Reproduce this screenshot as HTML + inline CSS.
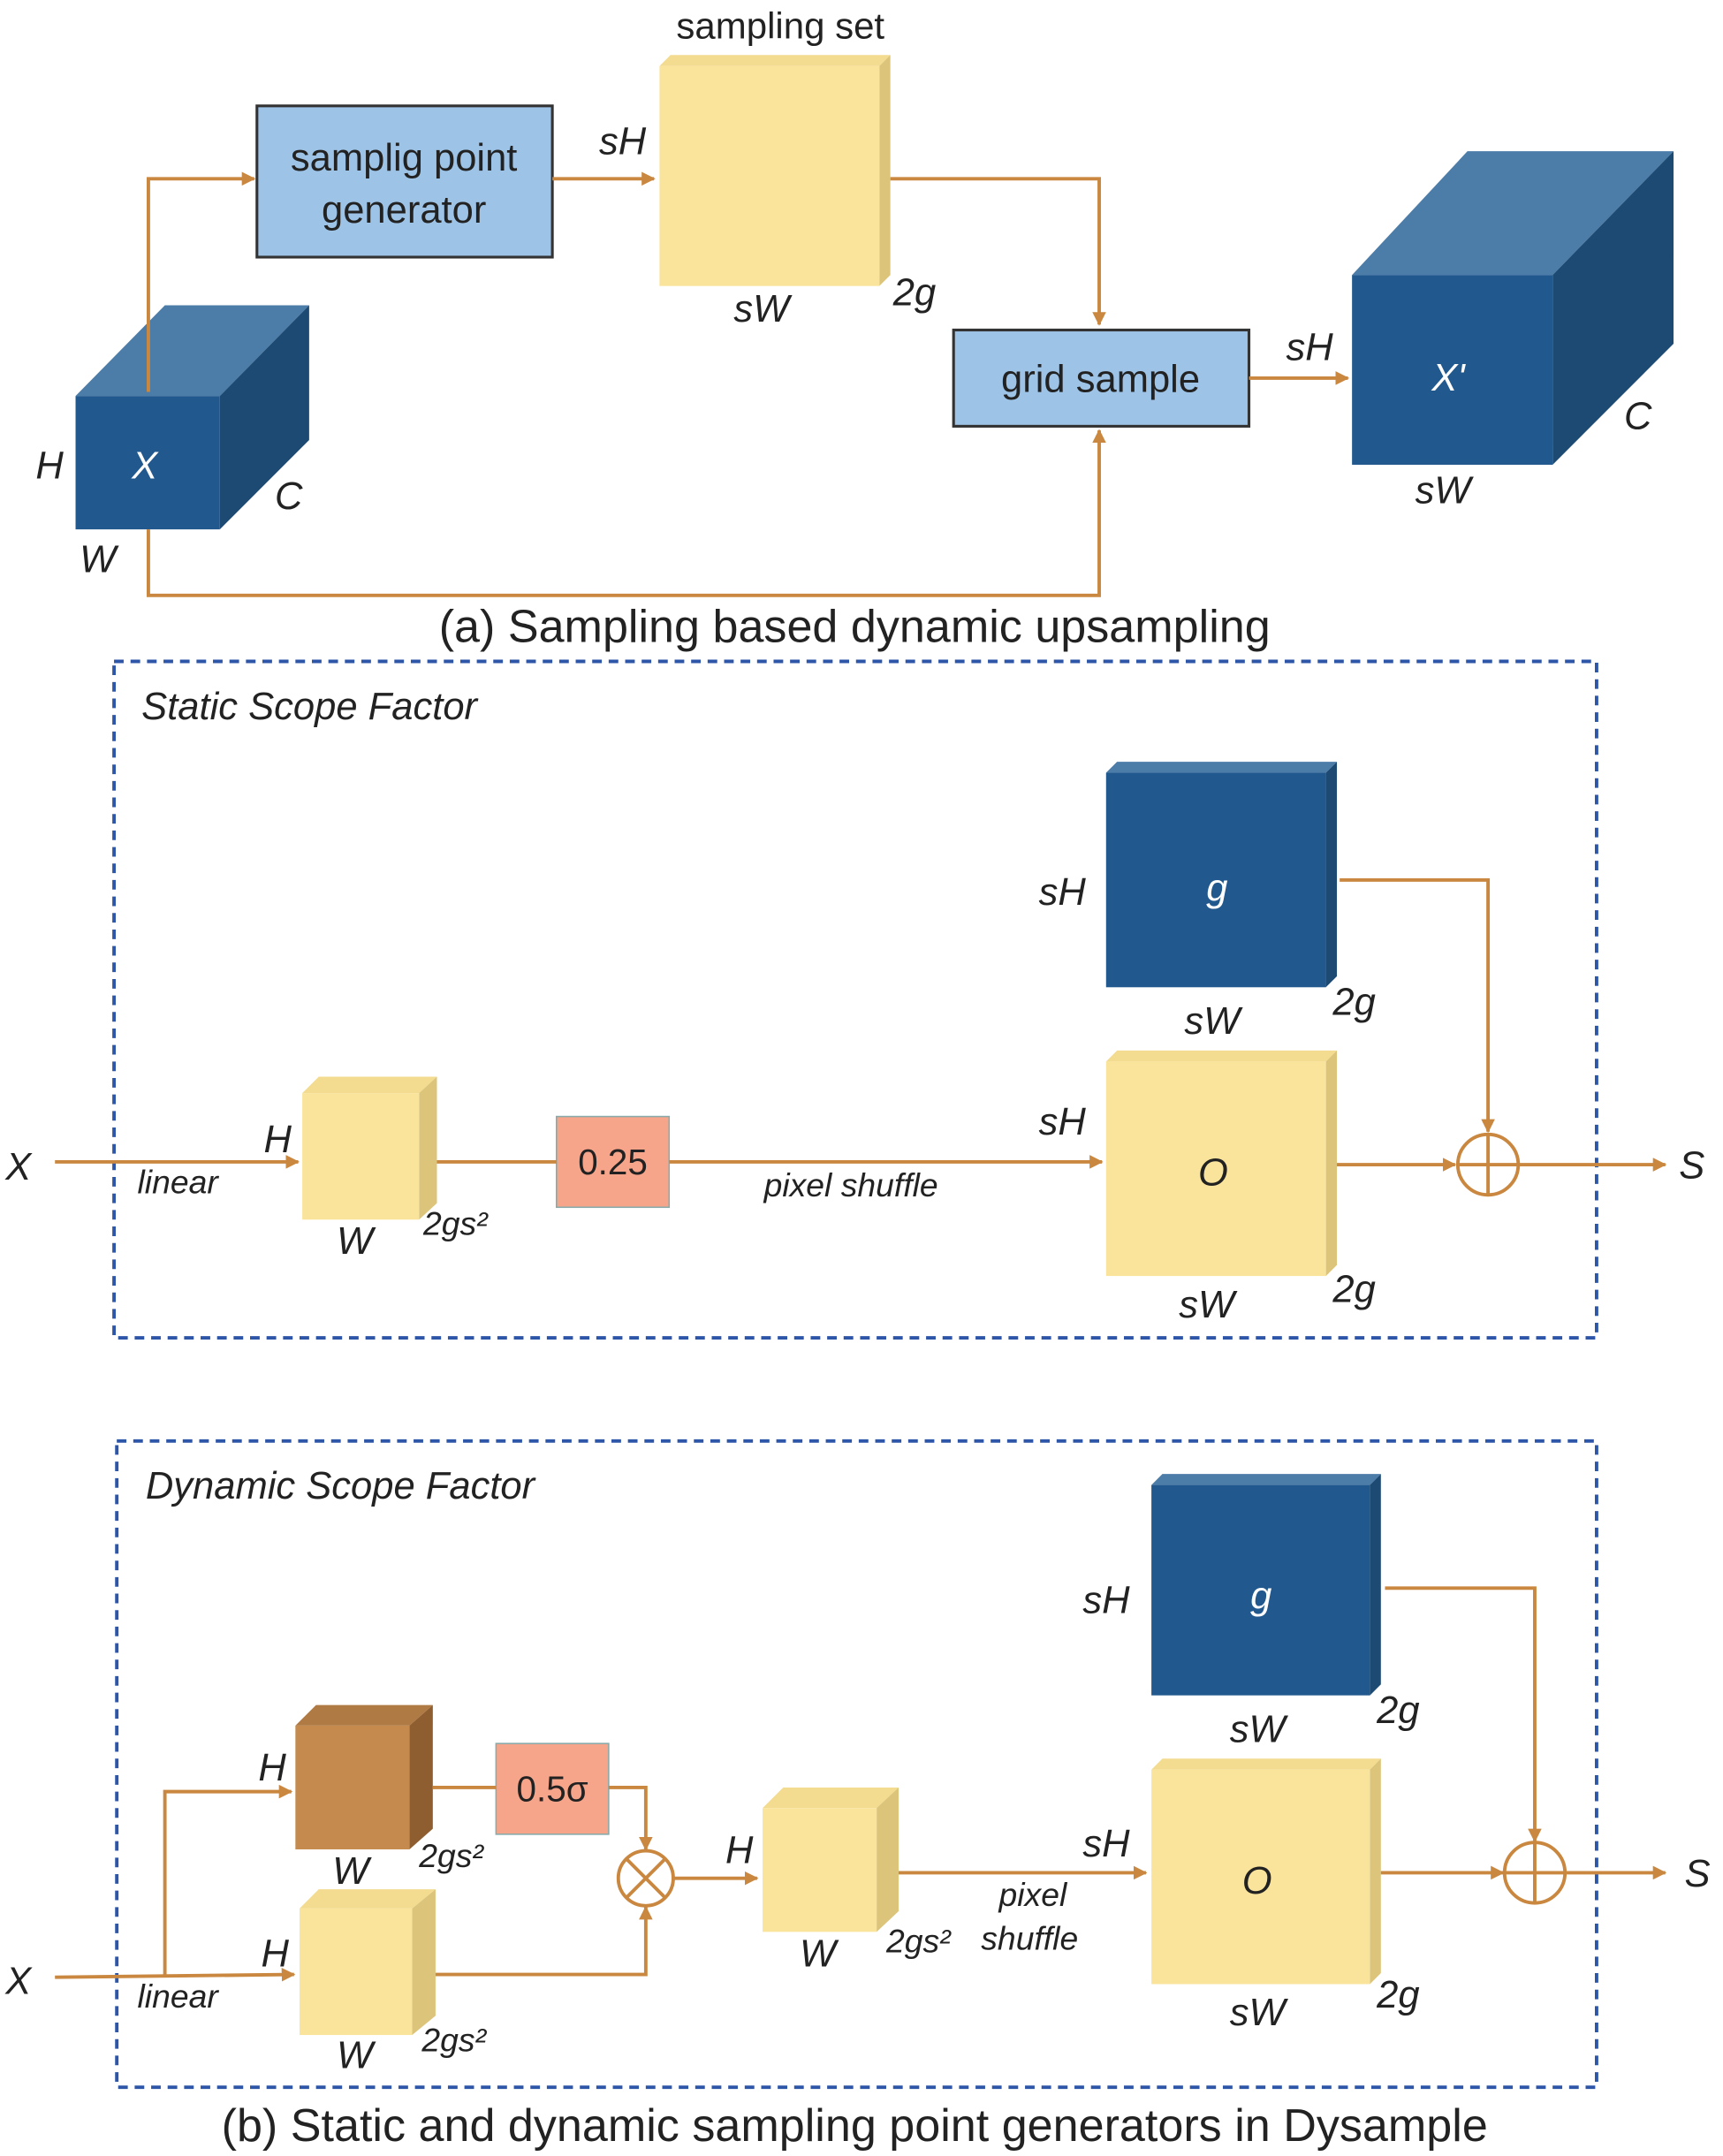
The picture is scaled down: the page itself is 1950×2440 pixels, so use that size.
<!DOCTYPE html>
<html><head><meta charset="utf-8"><style>
html,body{margin:0;padding:0;background:#fff;}
svg{display:block;}
text{font-family:"Liberation Sans",sans-serif;}
.l{font-style:italic;font-size:28px;fill:#222;}
.cap{font-size:33.5px;fill:#222;}
.ln{stroke:#c9873f;stroke-width:2.5;fill:none;}
</style></head><body>
<svg width="1950" height="2440" viewBox="0 0 1254 1568" preserveAspectRatio="none" xmlns="http://www.w3.org/2000/svg">
<defs>
<marker id="a" markerWidth="10" markerHeight="10" refX="9" refY="5" orient="auto" markerUnits="userSpaceOnUse">
<path d="M0,0 L10,5 L0,10 z" fill="#c9873f"/></marker>
</defs>
<rect width="1254" height="1568" fill="#fff"/>

<polygon points="55,288 120,222 225,222 160,288" fill="#4c7ca8"/>
<polygon points="160,288 225,222 225,320 160,385" fill="#1d4a72"/>
<rect x="55" y="288" width="105" height="97" fill="#21588e"/>
<text class="l" x="26" y="348">H</text>
<text class="l" x="96" y="348" style="fill:#fff">X</text>
<text class="l" x="200" y="370">C</text>
<text class="l" x="58" y="416">W</text>

<rect x="187" y="77" width="215" height="110" fill="#9dc3e6" stroke="#333" stroke-width="2"/>
<text x="294" y="124" text-anchor="middle" style="font-size:28px;fill:#222">samplig point</text>
<text x="294" y="162" text-anchor="middle" style="font-size:28px;fill:#222">generator</text>

<polygon points="480,48 488,40 648,40 640,48" fill="#f3dc90"/>
<polygon points="640,48 648,40 648,200 640,208" fill="#dcc57a"/>
<rect x="480" y="48" width="160" height="160" fill="#fae49b"/>
<text x="568" y="28" text-anchor="middle" style="font-size:27px;fill:#222">sampling set</text>
<text class="l" x="436" y="112">sH</text>
<text class="l" x="534" y="234">sW</text>
<text class="l" x="650" y="222">2g</text>

<rect x="694" y="240" width="215" height="70" fill="#9dc3e6" stroke="#333" stroke-width="2"/>
<text x="801" y="285" text-anchor="middle" style="font-size:28px;fill:#222">grid sample</text>

<polygon points="984,200 1068,110 1218,110 1130,200" fill="#4c7ca8"/>
<polygon points="1130,200 1218,110 1218,250 1130,338" fill="#1d4a72"/>
<rect x="984" y="200" width="146" height="138" fill="#21588e"/>
<text class="l" x="936" y="262">sH</text>
<text x="1042" y="284" style="font-size:28px;font-style:italic;fill:#fff">X'</text>
<text class="l" x="1182" y="312">C</text>
<text class="l" x="1030" y="366">sW</text>

<polyline class="ln" points="108,285 108,130 185,130" marker-end="url(#a)"/>
<line class="ln" x1="402" y1="130" x2="476" y2="130" marker-end="url(#a)"/>
<polyline class="ln" points="648,130 800,130 800,236" marker-end="url(#a)"/>
<line class="ln" x1="909" y1="275" x2="981" y2="275" marker-end="url(#a)"/>
<polyline class="ln" points="108,385 108,433 800,433 800,313" marker-end="url(#a)"/>
<text class="cap" x="622" y="467" text-anchor="middle">(a) Sampling based dynamic upsampling</text>

<rect x="83" y="481" width="1079" height="492" fill="none" stroke="#2e56a8" stroke-width="2.5" stroke-dasharray="7,5"/>
<text class="l" x="103" y="523">Static Scope Factor</text>

<polygon points="805,562 813,554 973,554 965,562" fill="#4c7ca8"/>
<polygon points="965,562 973,554 973,710 965,718" fill="#1d4a72"/>
<rect x="805" y="562" width="160" height="156" fill="#21588e"/>
<text class="l" x="756" y="658">sH</text>
<text x="878" y="655" style="font-size:28px;font-style:italic;fill:#fff">g</text>
<text class="l" x="862" y="752">sW</text>
<text class="l" x="970" y="738">2g</text>

<polygon points="805,772 813,764 973,764 965,772" fill="#f3dc90"/>
<polygon points="965,772 973,764 973,920 965,928" fill="#dcc57a"/>
<rect x="805" y="772" width="160" height="156" fill="#fae49b"/>
<text class="l" x="756" y="825">sH</text>
<text class="l" x="872" y="862">O</text>
<text class="l" x="858" y="958">sW</text>
<text class="l" x="970" y="947">2g</text>

<polygon points="220,795 232,783 318,783 305,795" fill="#f3dc90"/>
<polygon points="305,795 318,783 318,875 305,887" fill="#dcc57a"/>
<rect x="220" y="795" width="85" height="92" fill="#fae49b"/>
<text class="l" x="192" y="838">H</text>
<text class="l" x="245" y="912">W</text>
<text class="l" x="308" y="898" style="font-size:24px">2gs²</text>

<rect x="405" y="812" width="82" height="66" fill="#f7a58a" stroke="#8aa" stroke-width="1"/>
<text x="446" y="854" text-anchor="middle" style="font-size:26px;fill:#222">0.25</text>

<text class="l" x="4" y="858">X</text>
<text class="l" x="100" y="868" style="font-size:24px">linear</text>
<text class="l" x="556" y="870" style="font-size:24px">pixel shuffle</text>

<line class="ln" x1="40" y1="845" x2="217" y2="845" marker-end="url(#a)"/>
<line class="ln" x1="318" y1="845" x2="405" y2="845"/>
<line class="ln" x1="487" y1="845" x2="802" y2="845" marker-end="url(#a)"/>
<line class="ln" x1="973" y1="847" x2="1059" y2="847" marker-end="url(#a)"/>
<circle cx="1083" cy="847" r="22" fill="none" stroke="#c9873f" stroke-width="2.5"/>
<line class="ln" x1="1061" y1="847" x2="1105" y2="847"/>
<line class="ln" x1="1083" y1="825" x2="1083" y2="869"/>
<line class="ln" x1="1105" y1="847" x2="1212" y2="847" marker-end="url(#a)"/>
<polyline class="ln" points="975,640 1083,640 1083,823" marker-end="url(#a)"/>
<text class="l" x="1222" y="857">S</text>

<rect x="85" y="1048" width="1077" height="470" fill="none" stroke="#2e56a8" stroke-width="2.5" stroke-dasharray="7,5"/>
<text class="l" x="106" y="1090">Dynamic Scope Factor</text>

<polygon points="838,1080 846,1072 1005,1072 997,1080" fill="#4c7ca8"/>
<polygon points="997,1080 1005,1072 1005,1225 997,1233" fill="#1d4a72"/>
<rect x="838" y="1080" width="159" height="153" fill="#21588e"/>
<text class="l" x="788" y="1173">sH</text>
<text x="910" y="1170" style="font-size:28px;font-style:italic;fill:#fff">g</text>
<text class="l" x="895" y="1267">sW</text>
<text class="l" x="1002" y="1253">2g</text>

<polygon points="838,1287 846,1279 1005,1279 997,1287" fill="#f3dc90"/>
<polygon points="997,1287 1005,1279 1005,1435 997,1443" fill="#dcc57a"/>
<rect x="838" y="1287" width="159" height="156" fill="#fae49b"/>
<text class="l" x="788" y="1350">sH</text>
<text class="l" x="904" y="1377">O</text>
<text class="l" x="895" y="1473">sW</text>
<text class="l" x="1002" y="1460">2g</text>

<polygon points="215,1255 230,1240 315,1240 298,1255" fill="#b07a44"/>
<polygon points="298,1255 315,1240 315,1330 298,1345" fill="#8e5e30"/>
<rect x="215" y="1255" width="83" height="90" fill="#c58a4e"/>
<text class="l" x="188" y="1295">H</text>
<text class="l" x="242" y="1370">W</text>
<text class="l" x="305" y="1358" style="font-size:24px">2gs²</text>

<polygon points="218,1388 232,1374 317,1374 300,1388" fill="#f3dc90"/>
<polygon points="300,1388 317,1374 317,1466 300,1480" fill="#dcc57a"/>
<rect x="218" y="1388" width="82" height="92" fill="#fae49b"/>
<text class="l" x="190" y="1430">H</text>
<text class="l" x="245" y="1504">W</text>
<text class="l" x="307" y="1492" style="font-size:24px">2gs²</text>

<rect x="361" y="1268" width="82" height="66" fill="#f7a58a" stroke="#8aa" stroke-width="1"/>
<text x="402" y="1310" text-anchor="middle" style="font-size:26px;fill:#222">0.5σ</text>

<polygon points="555,1315 570,1300 654,1300 638,1315" fill="#f3dc90"/>
<polygon points="638,1315 654,1300 654,1390 638,1405" fill="#dcc57a"/>
<rect x="555" y="1315" width="83" height="90" fill="#fae49b"/>
<text class="l" x="528" y="1355">H</text>
<text class="l" x="582" y="1430">W</text>
<text class="l" x="645" y="1420" style="font-size:24px">2gs²</text>

<text class="l" x="727" y="1386" style="font-size:24px">pixel</text>
<text class="l" x="714" y="1418" style="font-size:24px">shuffle</text>

<text class="l" x="4" y="1450">X</text>
<text class="l" x="100" y="1460" style="font-size:24px">linear</text>

<line class="ln" x1="40" y1="1438" x2="214" y2="1436" marker-end="url(#a)"/>
<polyline class="ln" points="120,1437 120,1303 212,1303" marker-end="url(#a)"/>
<line class="ln" x1="315" y1="1300" x2="361" y2="1300"/>
<polyline class="ln" points="443,1300 470,1300 470,1345" marker-end="url(#a)"/>
<polyline class="ln" points="317,1436 470,1436 470,1387" marker-end="url(#a)"/>
<circle cx="470" cy="1366" r="20" fill="none" stroke="#c9873f" stroke-width="2.5"/>
<line class="ln" x1="456" y1="1352" x2="484" y2="1380"/>
<line class="ln" x1="484" y1="1352" x2="456" y2="1380"/>
<line class="ln" x1="490" y1="1366" x2="551" y2="1366" marker-end="url(#a)"/>
<line class="ln" x1="654" y1="1362" x2="834" y2="1362" marker-end="url(#a)"/>
<line class="ln" x1="1005" y1="1362" x2="1094" y2="1362" marker-end="url(#a)"/>
<circle cx="1117" cy="1362" r="22" fill="none" stroke="#c9873f" stroke-width="2.5"/>
<line class="ln" x1="1095" y1="1362" x2="1139" y2="1362"/>
<line class="ln" x1="1117" y1="1340" x2="1117" y2="1384"/>
<line class="ln" x1="1139" y1="1362" x2="1212" y2="1362" marker-end="url(#a)"/>
<polyline class="ln" points="1008,1155 1117,1155 1117,1339" marker-end="url(#a)"/>
<text class="l" x="1226" y="1372">S</text>

<text class="cap" x="622" y="1557" text-anchor="middle">(b) Static and dynamic sampling point generators in Dysample</text>
</svg>
</body></html>
